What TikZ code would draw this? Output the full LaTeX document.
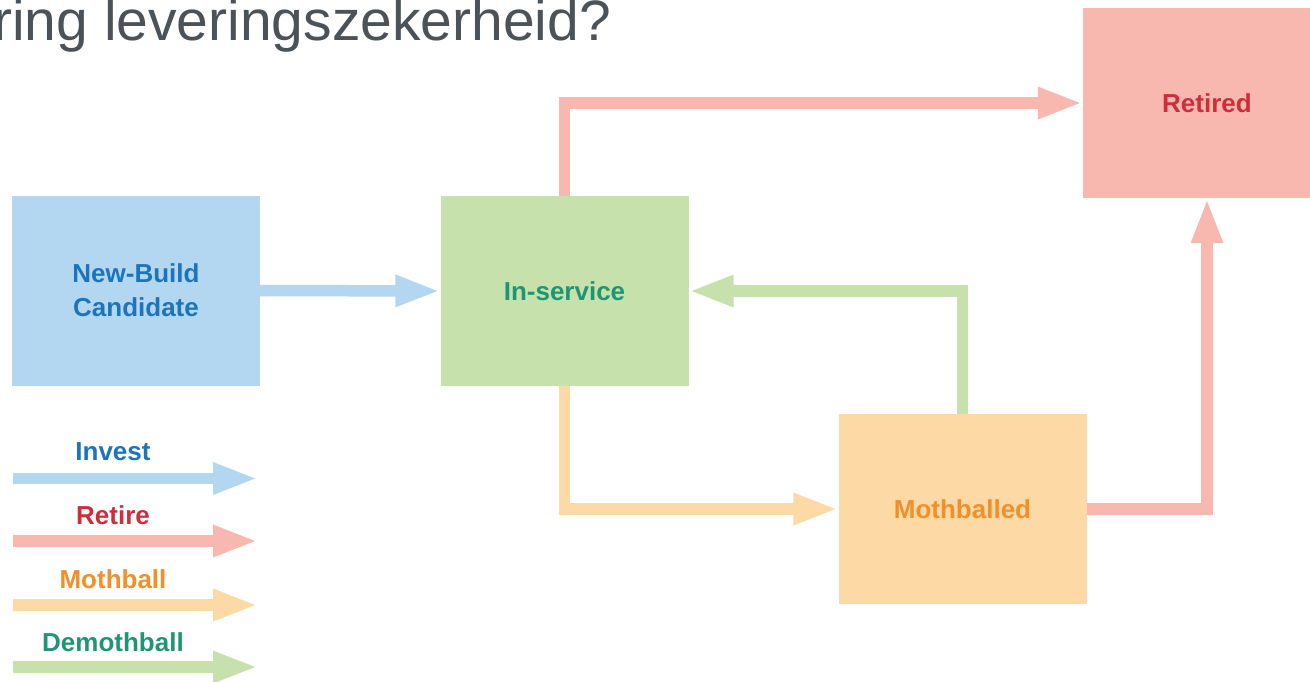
\documentclass[tikz,border=0pt]{standalone}
\usepackage{fontspec}
\setmainfont{Liberation Sans}
\usetikzlibrary{arrows.meta}
\definecolor{bluefill}{HTML}{B3D7F0}
\definecolor{bluetext}{HTML}{1C75BC}
\definecolor{greenfill}{HTML}{C7E1AC}
\definecolor{greentext}{HTML}{1E9676}
\definecolor{redfill}{HTML}{F8B8B0}
\definecolor{redtext}{HTML}{CD2E3A}
\definecolor{orangefill}{HTML}{FDD9A6}
\definecolor{orangetext}{HTML}{F0902A}
\definecolor{titlegrey}{HTML}{4B5358}
\tikzset{
  statebox/.style={minimum width=248pt, minimum height=190pt, inner sep=0pt,
    align=center, font=\fontsize{26}{34}\selectfont\bfseries},
  flow/.style={line width=11.5pt, line join=miter, line cap=butt,
    -{Triangle[length=45pt,width=29pt]}},
  legendlabel/.style={font=\fontsize{26}{30}\selectfont\bfseries, inner sep=0pt},
}
\begin{document}
\begin{tikzpicture}[x=1pt,y=-1pt]
\useasboundingbox (0,0) rectangle (1310,681);
\clip (0,0) rectangle (1310,681);
\fill[white] (0,0) rectangle (1310,681);

\node[anchor=base west, inner sep=0pt, text=titlegrey,
  font=\fontsize{57}{60}\selectfont] (title) at (-7,40) {ring leveringszekerheid?};

\node[statebox, fill=bluefill, text=bluetext] (nb) at (136,290.5) {New-Build\\Candidate};
\node[statebox, fill=greenfill, text=greentext] (ins) at (564.5,291) {In-service};
\node[statebox, fill=redfill, text=redtext] (ret) at (1207,103) {Retired};
\node[statebox, fill=orangefill, text=orangetext] (moth) at (962.5,509) {Mothballed};

\draw[flow, draw=bluefill] (nb.east) -- (ins.west);
\draw[flow, draw=redfill] (ins.north) |- (ret.west);
\draw[flow, draw=orangefill] (ins.south) |- (moth.west);
\draw[flow, draw=greenfill] (moth.north) |- (ins.east);
\draw[flow, draw=redfill] (moth.east) -| (ret.south);

% legend
\node[legendlabel, text=bluetext] (lInvest) at (113,452) {Invest};
\coordinate (aInvestS) at (13,478.5);
\coordinate (aInvestE) at (258,478.5);
\draw[flow, draw=bluefill] (aInvestS) -- (aInvestE);

\node[legendlabel, text=redtext] (lRetire) at (113,515) {Retire};
\coordinate (aRetireS) at (13,541);
\coordinate (aRetireE) at (258,541);
\draw[flow, draw=redfill] (aRetireS) -- (aRetireE);

\node[legendlabel, text=orangetext] (lMoth) at (113,579) {Mothball};
\coordinate (aMothS) at (13,605);
\coordinate (aMothE) at (258,605);
\draw[flow, draw=orangefill] (aMothS) -- (aMothE);

\node[legendlabel, text=greentext] (lDemoth) at (113,642) {Demothball};
\coordinate (aDemothS) at (13,667);
\coordinate (aDemothE) at (258,667);
\draw[flow, draw=greenfill] (aDemothS) -- (aDemothE);
\end{tikzpicture}
\end{document}
